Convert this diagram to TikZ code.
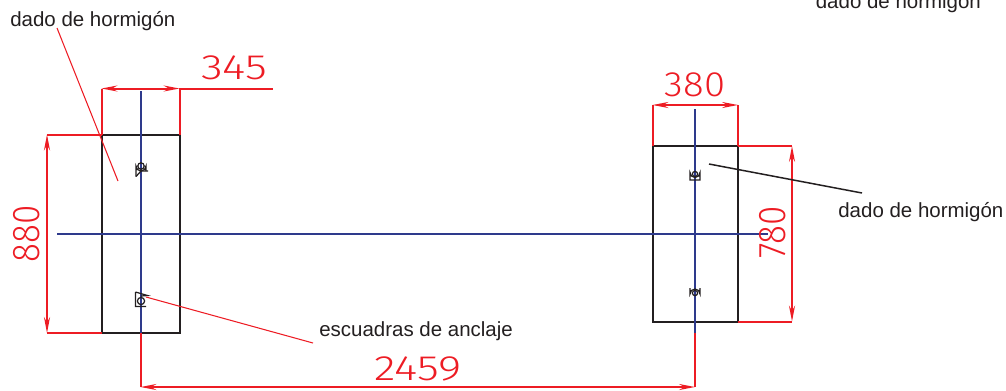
\documentclass[tikz,border=0pt]{standalone}
\usepackage{fontspec}
\setmainfont{Liberation Sans}
\newfontfamily\dimfont[UprightFont=* Light]{Fira Sans}
\usetikzlibrary{arrows.meta}
\definecolor{cota}{RGB}{237,28,36}
\definecolor{eje}{RGB}{46,58,140}
\definecolor{negro}{RGB}{35,31,32}
\tikzset{
  dado/.style={draw=negro,line width=1.14pt},
  eje/.style={draw=eje,line width=1.14pt},
  cota/.style={draw=cota,line width=1.14pt},
  flecha/.style={cota,{Stealth[length=9pt,width=3.4pt]}-{Stealth[length=9pt,width=3.4pt]}},
  linea/.style={draw=cota,line width=0.6pt},
  rotulo/.style={font=\fontsize{11.65}{14}\selectfont,text=negro,inner sep=0pt},
  medida/.style={font=\dimfont\fontsize{20}{24}\selectfont,text=cota,inner sep=0pt},
  anclaje/.style={draw=negro,line width=0.7pt},
}
\begin{document}
\begin{tikzpicture}[x=0.02cm,y=-0.02cm]
  \useasboundingbox (0,0) rectangle (1006,390);
  % dados
  \draw[dado] (101.5,134.5) rectangle (179.5,333);
  \draw[dado] (652.5,146) rectangle (738,321.5);
  % ejes
  \draw[eje] (57,233.5) -- (768,233.5);
  \draw[eje] (140.5,91) -- (140.5,333);
  \draw[eje] (695,109) -- (695,333);
  % escuadras
  \draw[anclaje] (136,176.5) -- (136,166) arc (180:0:5) -- (146,171);
  \draw[anclaje] (136,176.5) -- (141,171) -- (148,171);
  \draw[anclaje] (141,166) circle (3.2);
  \draw[anclaje] (135.5,292) -- (135.5,306.5) -- (146,306.5) (135.5,292) -- (147.5,295.5) -- (141,296);
  \draw[anclaje] (141,301) circle (3.6);
  \draw[anclaje] (690,180) -- (690,172.5) arc (180:0:5) -- (700,180) -- cycle;
  \draw[anclaje] (695,174) circle (2.6);
  \draw[anclaje] (690,288) -- (690,294) arc (180:360:5) -- (700,288);
  \draw[anclaje] (695,293) circle (2.6);
  % cotas dado izquierdo
  \draw[cota] (101.5,134.5) -- (101.5,88.5) (179.5,134.5) -- (179.5,88.5) -- (273,88.5);
  \draw[flecha] (101.5,88.5) -- (179.5,88.5);
  \node[medida,xscale=1.27] (c345) at (234,68) {345};
  \draw[cota] (101.5,134.5) -- (47,134.5) (101.5,333) -- (47,333);
  \draw[flecha] (47,134.5) -- (47,333);
  \node[medida,rotate=90,yscale=1.1] (c880) at (27,233.5) {880};
  % cotas dado derecho
  \draw[cota] (652.5,146) -- (652.5,105) (738,146) -- (738,105);
  \draw[flecha] (652.5,105) -- (738,105);
  \node[medida,xscale=1.09] (c380) at (695,85) {380};
  \draw[cota] (738,146) -- (792,146) (738,321.5) -- (792,321.5);
  \draw[flecha] (792,146) -- (792,321.5);
  \node[medida,rotate=90,yscale=1.1] (c780) at (772.5,232.5) {780};
  % cota entre ejes
  \draw[cota] (140.5,333) -- (140.5,387) (695,333) -- (695,387);
  \draw[flecha] (140.5,387) -- (695,387);
  \node[medida,xscale=1.27] (c2459) at (418,368.5) {2459};
  % rotulos
  \node[rotulo,anchor=base west] (dadoA) at (10,26.5) {dado de hormigón};
  \node[rotulo,anchor=base west] (dadoB) at (815.5,8) {dado de hormigón};
  \node[rotulo,anchor=base west] (dadoC) at (838,217) {dado de hormigón};
  \node[rotulo,anchor=base west] (escuadras) at (319,336) {escuadras de anclaje};
  \coordinate (pA) at (118,181);
  \coordinate (pB) at (146,297);
  \coordinate (pC) at (709,164);
  \coordinate (finA) at (57,28);
  \coordinate (finB) at (313,343);
  \coordinate (finC) at (862,193);
  \draw[linea] (finA) -- (pA);
  \draw[linea] (finB) -- (pB);
  \draw[draw=negro,line width=0.85pt] (finC) -- (pC);
\end{tikzpicture}
\end{document}
